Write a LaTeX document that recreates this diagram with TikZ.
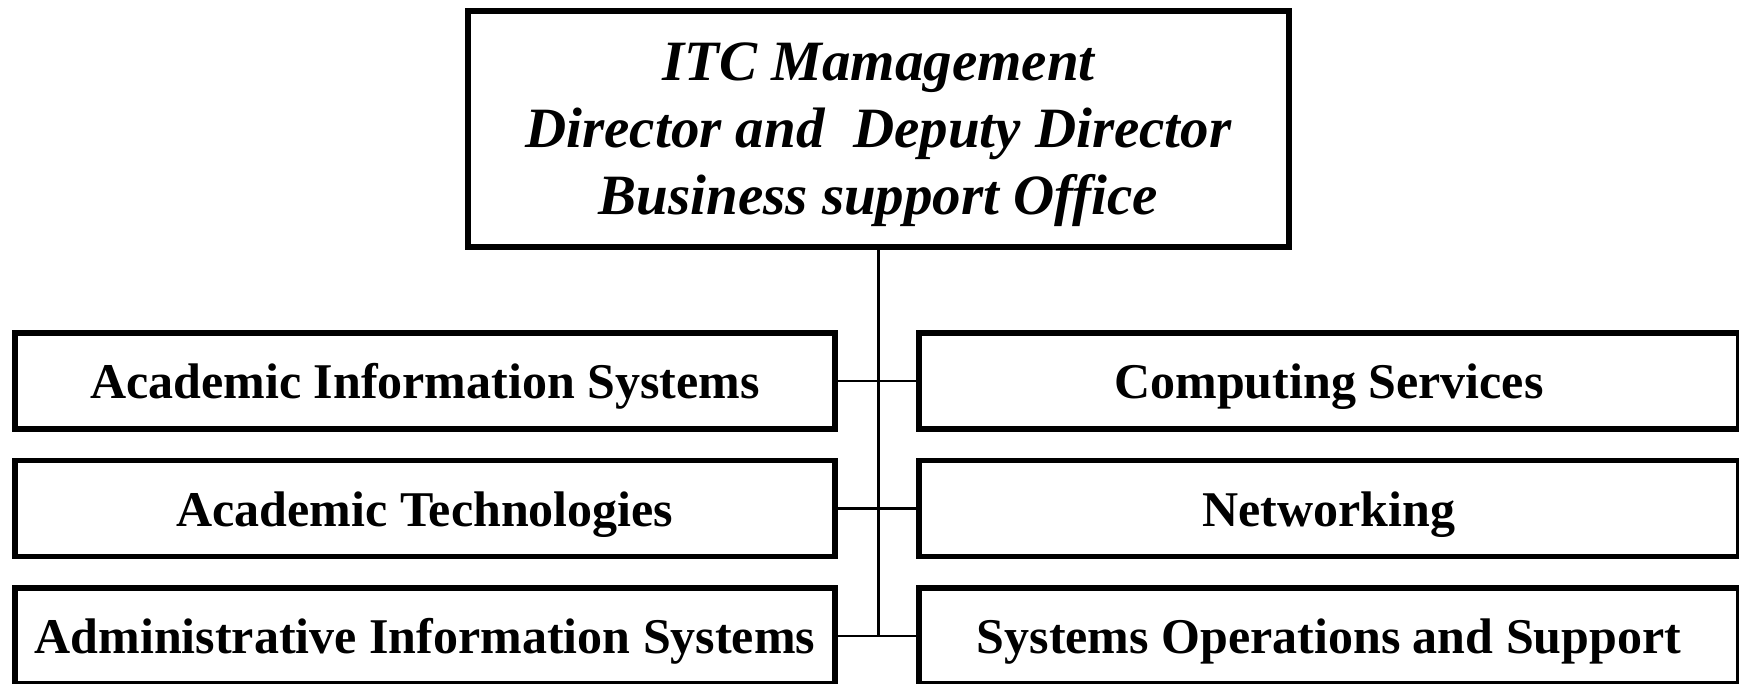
\documentclass[tikz,border=0pt]{standalone}
\usepackage{fontspec}
\setmainfont{Liberation Serif}
\begin{document}
\begin{tikzpicture}[x=1pt,y=-1pt,
  unitbox/.style={draw=black, line width=5.5pt, rectangle, minimum width=820pt, minimum height=96pt, inner sep=0pt, text height=35pt, text depth=0pt, font=\fontsize{50}{60}\selectfont\bfseries},
  headbox/.style={draw=black, line width=5.5pt, rectangle, minimum width=821pt, minimum height=236pt, inner sep=0pt, align=center, text depth=1.5pt, font=\fontsize{57}{67}\selectfont\bfseries\itshape},
  link/.style={draw=black, line width=2.5pt}]
\useasboundingbox (0,0) rectangle (1739,684);
\node[headbox] (top) at (878.5,129) {ITC Mamagement\\Director and\ \ Deputy Director\\Business support Office};
\node[unitbox] (L1) at (425,381) {Academic Information Systems};
\node[unitbox] (L2) at (425,508.5) {Academic Technologies};
\node[unitbox] (L3) at (425,636) {Administrative Information Systems};
\node[unitbox] (R1) at (1329,381) {Computing Services};
\node[unitbox] (R2) at (1329,508.5) {Networking};
\node[unitbox] (R3) at (1329,636) {Systems Operations and Support};
\coordinate (tb) at (top.south |- L3.east);
\draw[link] (top.south) -- (tb);
\draw[link] (L1.east) -- (R1.west);
\draw[link] (L2.east) -- (R2.west);
\draw[link] (L3.east) -- (R3.west);
\end{tikzpicture}
\end{document}
